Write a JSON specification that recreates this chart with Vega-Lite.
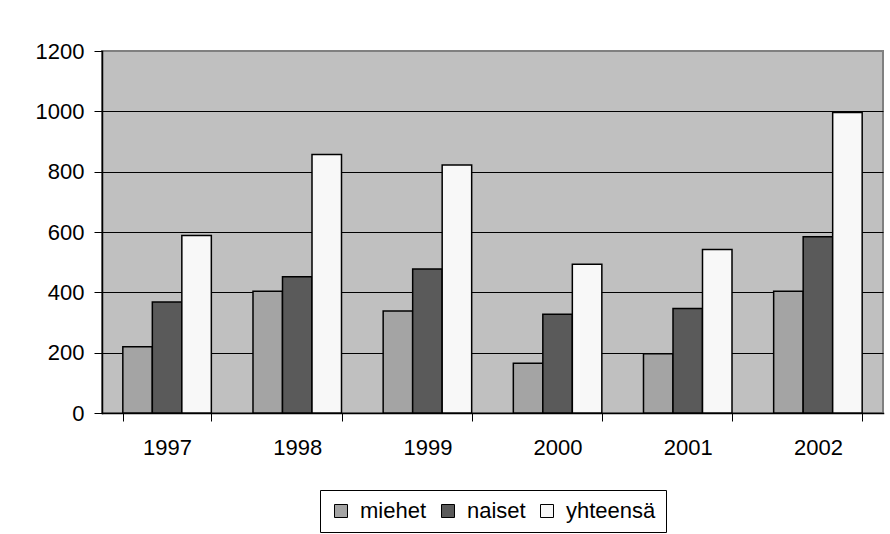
{
  "$schema": "https://vega.github.io/schema/vega-lite/v6.json",
  "autosize": {"type": "none"},
  "width": 781,
  "height": 362,
  "padding": {"left": 102, "top": 51, "right": 7, "bottom": 121},
  "background": "white",
  "data": {
    "values": [
      {"year": "1997", "series": "miehet", "value": 220},
      {"year": "1997", "series": "naiset", "value": 368},
      {"year": "1997", "series": "yhteensä", "value": 588},
      {"year": "1998", "series": "miehet", "value": 404},
      {"year": "1998", "series": "naiset", "value": 452},
      {"year": "1998", "series": "yhteensä", "value": 857},
      {"year": "1999", "series": "miehet", "value": 338},
      {"year": "1999", "series": "naiset", "value": 477},
      {"year": "1999", "series": "yhteensä", "value": 822},
      {"year": "2000", "series": "miehet", "value": 165},
      {"year": "2000", "series": "naiset", "value": 327},
      {"year": "2000", "series": "yhteensä", "value": 493},
      {"year": "2001", "series": "miehet", "value": 196},
      {"year": "2001", "series": "naiset", "value": 346},
      {"year": "2001", "series": "yhteensä", "value": 542},
      {"year": "2002", "series": "miehet", "value": 404},
      {"year": "2002", "series": "naiset", "value": 584},
      {"year": "2002", "series": "yhteensä", "value": 996}
    ]
  },
  "mark": {"type": "bar", "stroke": "black", "strokeWidth": 1.5},
  "encoding": {
    "x": {
      "field": "year",
      "type": "ordinal",
      "scale": {"paddingInner": 0.32, "paddingOuter": 0.16},
      "axis": {
        "title": null,
        "labelAngle": 0,
        "grid": false,
        "tickBand": "extent",
        "tickSize": 8,
        "tickColor": "black",
        "domainColor": "black",
        "domainWidth": 1.5,
        "labelPadding": 16,
        "labelFontSize": 22,
        "labelFont": "Liberation Sans",
        "labelColor": "black"
      }
    },
    "xOffset": {"field": "series", "type": "nominal", "sort": ["miehet", "naiset", "yhteensä"]},
    "y": {
      "field": "value",
      "type": "quantitative",
      "scale": {"domain": [0, 1200], "nice": false},
      "axis": {
        "title": null,
        "values": [0, 200, 400, 600, 800, 1000, 1200],
        "format": "d",
        "tickSize": 8,
        "tickColor": "black",
        "domainColor": "black",
        "domainWidth": 1.5,
        "labelPadding": 10,
        "labelFontSize": 22,
        "labelFont": "Liberation Sans",
        "labelColor": "black",
        "grid": true,
        "gridColor": {"condition": {"test": "datum.value === 1200", "value": "#808080"}, "value": "black"},
        "gridWidth": 1,
        "gridOpacity": 1
      }
    },
    "fill": {
      "field": "series",
      "type": "nominal",
      "sort": ["miehet", "naiset", "yhteensä"],
      "scale": {"domain": ["miehet", "naiset", "yhteensä"], "range": ["#a4a4a4", "#5a5a5a", "#f8f8f8"]},
      "legend": {
        "title": null,
        "orient": "bottom",
        "direction": "horizontal",
        "offset": 32,
        "strokeColor": "black",
        "fillColor": "white",
        "padding": 10,
        "symbolType": "square",
        "symbolSize": 169,
        "symbolStrokeColor": "black",
        "symbolStrokeWidth": 1,
        "symbolOpacity": 1,
        "labelFontSize": 22,
        "labelFont": "Liberation Sans",
        "labelColor": "black",
        "labelOffset": 8,
        "columnPadding": 10
      }
    }
  },
  "config": {
    "view": {"fill": "#c0c0c0", "stroke": "#808080", "strokeWidth": 2},
    "axis": {"domainCap": "square"},
    "legend": {"layout": {"bottom": {"anchor": "middle"}}}
  }
}
